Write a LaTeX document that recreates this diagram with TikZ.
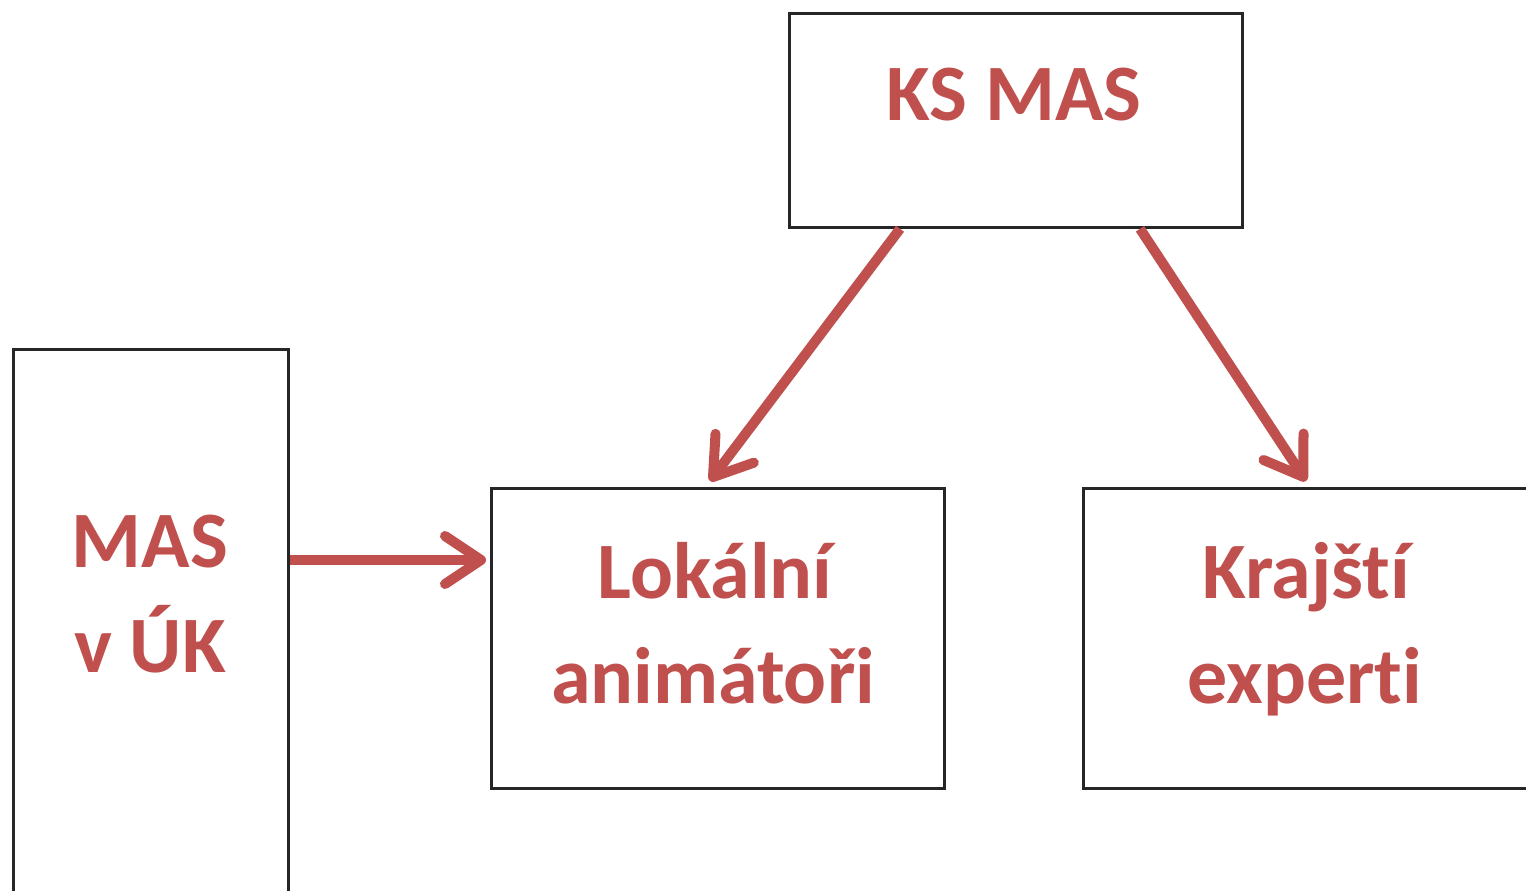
\documentclass[tikz,border=0pt]{standalone}
\usepackage{fontspec}
\setmainfont[Ligatures=NoCommon]{Carlito}
\usetikzlibrary{arrows.meta,calc}
\definecolor{redtxt}{HTML}{C0504D}
\begin{document}
\begin{tikzpicture}[x=1pt,y=-1pt,
  box/.style={draw=black!85,line width=2.8pt,fill=none,inner sep=0pt,anchor=north west},
  lbl/.style={text=redtxt,font=\fontsize{80}{96}\selectfont\bfseries,anchor=base,inner sep=0pt},
  conn/.style={draw=redtxt,line width=10pt,-{Straight Barb[length=36pt,width=48pt,round]}}]
\useasboundingbox (0,0) rectangle (1526,891);
\clip (0,0) rectangle (1526,891);
\fill[white] (0,0) rectangle (1526,891);
\node[box,minimum width=453pt,minimum height=214pt] (ks) at (788,12) {};
\node[box,minimum width=275pt,minimum height=560pt] (mas) at (12,348) {};
\node[box,minimum width=453pt,minimum height=300pt] (lok) at (490,487) {};
\node[box,minimum width=460pt,minimum height=300pt] (kraj) at (1082,487) {};
\node[lbl] (t1) at (1014,120) {KS MAS};
\node[lbl] (t2) at (150,567) {MAS};
\node[lbl] (t3) at (150,672) {v ÚK};
\node[lbl] (t4) at (715,598) {Lokální};
\node[lbl] (t5) at (713,703) {animátoři};
\node[lbl] (t6) at (1306,598) {Krajští};
\node[lbl] (t7) at (1305,703) {experti};
\draw[conn] ($(ks.south west)+(112,0)$) -- ($(lok.north west)+(220,-6)$);
\draw[conn] ($(ks.south west)+(352,0)$) -- ($(kraj.north west)+(224,-6)$);
\draw[conn] ($(mas.north east)+(0,212)$) -- ($(lok.north west)+(-4,73)$);
\end{tikzpicture}
\end{document}
